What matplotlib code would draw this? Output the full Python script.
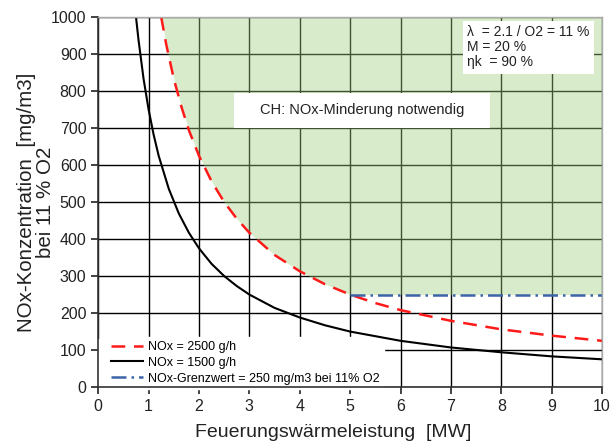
import numpy as np
import matplotlib.pyplot as plt
from matplotlib.patches import Rectangle

plt.rcParams['font.family'] = ['Liberation Sans', 'DejaVu Sans']

# Werte
leistung_1500 = [0.75, 0.8, 0.9, 1.0, 1.1, 1.2, 1.4, 1.6, 1.8, 2.0, 2.25, 2.5, 2.75, 3.0, 3.5, 4.0,
                 4.5, 5.0, 6.0, 7.0, 8.0, 9.0, 10.0]
nox_1500 = [1000, 938, 833, 750, 682, 625, 536, 469, 417, 375, 333, 300, 273, 250, 214, 188,
            167, 150, 125, 107, 94, 83, 75]

leistung_2500 = [1.25, 1.35, 1.5, 1.65, 1.8, 2.0, 2.25, 2.5, 2.75, 3.0, 3.5, 4.0, 4.5, 5.0,
                 5.5, 6.0, 7.0, 8.0, 9.0, 10.0]
nox_2500 = [1000, 926, 833, 758, 694, 625, 556, 500, 455, 417, 357, 313, 278, 250,
            227, 208, 179, 156, 139, 125]

grenzwert = 250
grenz_x = [5.0, 10.0]

x_ticks = list(range(0, 11))
y_ticks = list(range(0, 1001, 100))


def main():
    fig = plt.figure(figsize=(6.1, 4.48), dpi=100)
    ax = fig.add_axes([0.161, 0.136, 0.826, 0.826])

    ax.set_xlim(0, 10)
    ax.set_ylim(0, 1000)
    ax.set_xticks(x_ticks)
    ax.set_yticks(y_ticks)
    ax.tick_params(direction='out', length=5, width=1.2, labelsize=11.5, colors='#222222')
    ax.grid(True, color='black', linewidth=1.0, zorder=0)
    ax.set_axisbelow(True)

    for s in ['left', 'bottom']:
        ax.spines[s].set_color('#333333')
        ax.spines[s].set_linewidth(1.2)
    for s in ['top', 'right']:
        ax.spines[s].set_color('#aaaaaa')
        ax.spines[s].set_linewidth(1.0)
    for s in ax.spines.values():
        s.set_zorder(6)

    # gruener Bereich: NOx-Minderung notwendig
    xr = np.array(leistung_2500)
    yr = np.maximum(np.array(nox_2500), grenzwert)
    ax.fill_between(xr, yr, 1000, color='#9fcf7f', alpha=0.4, linewidth=0, zorder=1)

    ax.plot(leistung_2500, nox_2500, color='#ff1a1a', linestyle=(0, (5.5, 3.5)), linewidth=1.8,
            label='NOx = 2500 g/h', zorder=3)
    ax.plot(leistung_1500, nox_1500, color='black', linewidth=1.5,
            label='NOx = 1500 g/h', zorder=3)
    ax.plot(grenz_x, [grenzwert, grenzwert], color='#3c64a8', linestyle=(0, (6, 2, 1, 2)),
            linewidth=1.8, label='NOx-Grenzwert = 250 mg/m3 bei 11% O2', zorder=3)

    leg = ax.legend(loc='lower left', bbox_to_anchor=(0.012, -0.01), fontsize=9, frameon=True,
                    fancybox=False, handlelength=2.6, handletextpad=0.4, labelspacing=0.3,
                    borderaxespad=0.15, borderpad=0.35)
    leg.get_frame().set_facecolor('white')
    leg.get_frame().set_edgecolor('white')
    leg.get_frame().set_alpha(1.0)
    leg.set_zorder(2.5)
    # Legendenhintergrund bis an die y-Achse
    ax.add_patch(Rectangle((0, 0), 0.03, 0.13, transform=ax.transAxes, facecolor='white',
                           edgecolor='none', zorder=2.4))

    # weisser Kasten hinter dem Hinweistext
    ax.add_patch(Rectangle((2.7, 700), 5.08, 95, facecolor='white', edgecolor='none', zorder=4))
    ax.text(5.24, 748, 'CH: NOx-Minderung notwendig', ha='center', va='center', fontsize=10.5,
            color='#222222', zorder=5)

    ax.text(7.32, 978, 'λ  = 2.1 / O2 = 11 %\nM = 20 %\nηk  = 90 %', ha='left', va='top',
            fontsize=10, linespacing=1.1, color='#222222', zorder=5,
            bbox=dict(boxstyle='square,pad=0.3', facecolor='white', edgecolor='none'))

    ax.set_xlabel('Feuerungswärmeleistung  [MW]', fontsize=14, color='#222222')
    ax.xaxis.set_label_coords(0.466, -0.1)
    ax.set_ylabel('NOx-Konzentration  [mg/m3]\nbei 11 % O2', fontsize=14.8,
                  color='#222222', linespacing=1.0)
    ax.yaxis.set_label_coords(-0.085, 0.5)

    plt.savefig('out.png', dpi=100)


if __name__ == '__main__':
    main()
